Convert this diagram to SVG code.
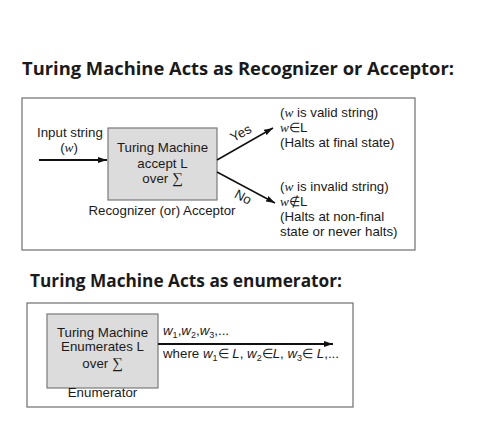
<svg xmlns="http://www.w3.org/2000/svg" width="477" height="432" viewBox="0 0 477 432">
<defs>
<marker id="ah" markerWidth="9" markerHeight="6" refX="9" refY="3" orient="auto" markerUnits="userSpaceOnUse">
<path d="M0,0 L9,3 L0,6 z" fill="#111"/>
</marker>
<style>
.title{font-family:"Open Sans","Noto Sans",sans-serif;font-weight:700;font-size:18px;fill:#1a1a1a}
.t{font-family:"Liberation Sans",Arial,sans-serif;font-size:13.3px;fill:#1a1a1a}
.mi{font-family:"Liberation Serif","Times New Roman",serif;font-style:italic}
.si{font-style:italic}
.sig{font-family:"Liberation Serif","Times New Roman",serif;font-size:15px}
.frame{fill:#fff;stroke:#6e6e6e;stroke-width:1.2}
.tm{fill:#dcdcdc;stroke:#7a7a7a;stroke-width:1.2}
.ln{stroke:#111;stroke-width:1.5;fill:none}
.thk{stroke:#111;stroke-width:2;fill:none}
</style>
</defs>
<rect width="477" height="432" fill="#fff"/>

<text class="title" x="22" y="75" textLength="432" lengthAdjust="spacingAndGlyphs">Turing Machine Acts as Recognizer or Acceptor:</text>

<g id="recognizer-frame">
<rect class="frame" x="22" y="98" width="393" height="152"/>
</g>

<g id="input">
<text class="t" x="37" y="137">Input string</text>
<text class="t" x="69" y="152" text-anchor="middle">(<tspan class="mi">w</tspan>)</text>
</g>

<g id="recognizer-tm">
<rect class="tm" x="108" y="128" width="109" height="72"/>
<text class="t" x="162.5" y="152" text-anchor="middle">Turing Machine</text>
<text class="t" x="162.5" y="167.5" text-anchor="middle">accept L</text>
<text class="t" x="162.5" y="183" text-anchor="middle">over <tspan class="sig">∑</tspan></text>
<text class="t" x="162" y="215" text-anchor="middle">Recognizer (or) Acceptor</text>
</g>

<g id="accept-result">
<text class="t" x="280" y="117">(<tspan class="mi">w</tspan> is valid string)</text>
<text class="t" x="280" y="132"><tspan class="mi">w</tspan>∈L</text>
<text class="t" x="280" y="147">(Halts at final state)</text>
</g>

<g id="reject-result">
<text class="t" x="280" y="191">(<tspan class="mi">w</tspan> is invalid string)</text>
<text class="t" x="280" y="206"><tspan class="mi">w</tspan>∉L</text>
<text class="t" x="280" y="221">(Halts at non-final</text>
<text class="t" x="280" y="236">state or never halts)</text>
</g>

<text class="title" x="30" y="287" textLength="312" lengthAdjust="spacingAndGlyphs">Turing Machine Acts as enumerator:</text>

<g id="enumerator-frame">
<rect class="frame" x="27" y="303" width="326" height="104"/>
</g>

<g id="enumerator-tm">
<rect class="tm" x="47" y="314" width="111" height="74"/>
<text class="t" x="102.5" y="337" text-anchor="middle">Turing Machine</text>
<text class="t" x="102.5" y="351" text-anchor="middle">Enumerates L</text>
<text class="t" x="102.5" y="368" text-anchor="middle">over <tspan class="sig">∑</tspan></text>
<text class="t" x="102.5" y="397" text-anchor="middle">Enumerator</text>
</g>

<g id="enumeration">
<text class="t" x="163" y="335"><tspan class="si">w</tspan><tspan font-size="9" dy="3">1</tspan><tspan dy="-3">,</tspan><tspan class="si">w</tspan><tspan font-size="9" dy="3">2</tspan><tspan dy="-3">,</tspan><tspan class="si">w</tspan><tspan font-size="9" dy="3">3</tspan><tspan dy="-3">,...</tspan></text>
<text class="t" x="163" y="358">where <tspan class="si">w</tspan><tspan font-size="9" dy="3">1</tspan><tspan dy="-3">∈ </tspan><tspan class="si">L</tspan>, <tspan class="si">w</tspan><tspan font-size="9" dy="3">2</tspan><tspan dy="-3">∈</tspan><tspan class="si">L</tspan>, <tspan class="si">w</tspan><tspan font-size="9" dy="3">3</tspan><tspan dy="-3">∈ </tspan><tspan class="si">L</tspan>,...</text>
</g>

<g id="connectors">
<line class="thk" x1="39" y1="160" x2="107" y2="160" marker-end="url(#ah)"/>
<line class="ln" x1="217" y1="160" x2="273" y2="128" marker-end="url(#ah)"/>
<line class="ln" x1="217" y1="172" x2="275" y2="203" marker-end="url(#ah)"/>
<text class="t" x="0" y="0" text-anchor="middle" transform="translate(243,137) rotate(-29.7)">Yes</text>
<text class="t" x="0" y="0" text-anchor="middle" transform="translate(241,201) rotate(28)">No</text>
<line class="thk" x1="158" y1="344" x2="333" y2="344" marker-end="url(#ah)"/>
</g>
</svg>
